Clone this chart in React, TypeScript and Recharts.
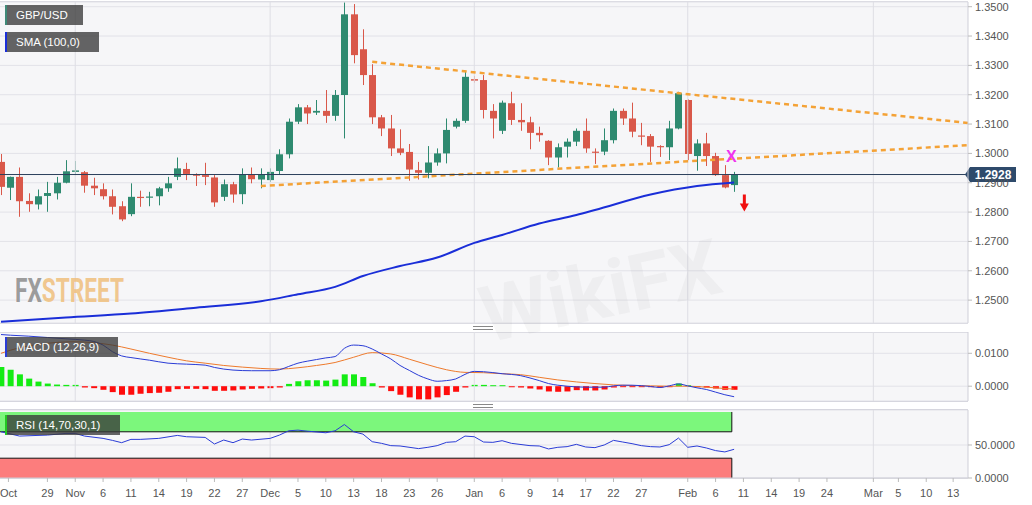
import React from "react";
import {
  ComposedChart,
  Bar,
  Line,
  XAxis,
  YAxis,
  CartesianGrid,
  ReferenceLine,
  ReferenceArea,
  ReferenceDot,
  Cell,
} from "recharts";

// daily GBP/USD candles, Oct 22 2019 .. Feb 10 2020 (trading days)
const open = [
  1.2971, 1.2883, 1.292, 1.2838, 1.2826, 1.2855, 1.2864, 1.29, 1.2937, 1.2936,
  1.289, 1.2878, 1.2854, 1.282, 1.2793, 1.2852, 1.2851, 1.2854, 1.2881, 1.292,
  1.2947, 1.2928, 1.2926, 1.2918, 1.2852, 1.2895, 1.2861, 1.2927, 1.2911, 1.2909,
  1.294, 1.2997, 1.3108, 1.3157, 1.3139, 1.3145, 1.3128, 1.3199, 1.3474, 1.3355,
  1.3267, 1.3123, 1.3085, 1.3017, 1.3005, 1.2943, 1.2934, 1.2969, 1.3, 1.3091,
  1.3111, 1.3253, 1.325, 1.3145, 1.3077, 1.3171, 1.3114, 1.3106, 1.307, 1.3043,
  1.2986, 1.3023, 1.304, 1.3077, 1.3006, 1.3006, 1.3045, 1.3145, 1.3119, 1.3061,
  1.3059, 1.3025, 1.3021, 1.3085, 1.3182, 1.2991, 1.3034, 1.2991, 1.2926, 1.2892,
];
const high = [
  1.2998, 1.2921, 1.2952, 1.2864, 1.2877, 1.2903, 1.292, 1.2977, 1.2974, 1.294,
  1.2917, 1.2898, 1.2877, 1.2837, 1.2898, 1.2873, 1.2869, 1.2886, 1.292, 1.2986,
  1.2968, 1.2932, 1.2968, 1.2926, 1.2911, 1.2903, 1.2949, 1.2952, 1.2949, 1.2949,
  1.3014, 1.3119, 1.3168, 1.3165, 1.3182, 1.3216, 1.3216, 1.3514, 1.3509, 1.3423,
  1.3304, 1.3131, 1.3131, 1.3082, 1.3032, 1.2971, 1.3025, 1.3017, 1.3119, 1.3119,
  1.3278, 1.3264, 1.3267, 1.3168, 1.318, 1.321, 1.3171, 1.3125, 1.3091, 1.3045,
  1.3034, 1.3051, 1.3085, 1.3119, 1.3017, 1.3085, 1.3153, 1.3153, 1.3173, 1.3104,
  1.3066, 1.3028, 1.3111, 1.321, 1.3184, 1.3048, 1.307, 1.3002, 1.296, 1.2937,
];
const low = [
  1.2858, 1.2841, 1.2784, 1.2801, 1.2809, 1.2801, 1.2843, 1.2898, 1.2926, 1.2866,
  1.2858, 1.2843, 1.2792, 1.2769, 1.2786, 1.2818, 1.282, 1.2823, 1.2869, 1.2909,
  1.2909, 1.2889, 1.2892, 1.2818, 1.2838, 1.2832, 1.2827, 1.2898, 1.2881, 1.2903,
  1.2929, 1.2983, 1.31, 1.31, 1.3131, 1.3104, 1.3111, 1.3051, 1.3307, 1.3233,
  1.31, 1.3059, 1.2991, 1.2994, 1.2907, 1.2911, 1.2915, 1.2958, 1.2966, 1.3085,
  1.3104, 1.3241, 1.3119, 1.3051, 1.3066, 1.3097, 1.3077, 1.3014, 1.304, 1.296,
  1.2952, 1.2986, 1.3025, 1.3002, 1.2964, 1.2994, 1.3034, 1.3097, 1.3055, 1.3028,
  1.2971, 1.2988, 1.2977, 1.3082, 1.2977, 1.2941, 1.2957, 1.2923, 1.2881, 1.2869,
];
const close = [
  1.2886, 1.292, 1.2837, 1.2827, 1.2854, 1.2865, 1.29, 1.2939, 1.2942, 1.289,
  1.2881, 1.2854, 1.2818, 1.2775, 1.2852, 1.285, 1.2853, 1.2881, 1.2898, 1.2949,
  1.293, 1.2926, 1.292, 1.2833, 1.2895, 1.286, 1.2928, 1.2912, 1.2929, 1.2937,
  1.2997, 1.3108, 1.3157, 1.3136, 1.3145, 1.3128, 1.3199, 1.3474, 1.3335, 1.3267,
  1.3123, 1.3085, 1.3017, 1.3002, 1.2945, 1.2934, 1.2969, 1.3, 1.308, 1.3111,
  1.3261, 1.3248, 1.3148, 1.3119, 1.3173, 1.3114, 1.3106, 1.307, 1.3062, 1.2986,
  1.3021, 1.304, 1.3077, 1.3017, 1.3002, 1.3045, 1.3145, 1.3119, 1.3074, 1.3057,
  1.3023, 1.3021, 1.3085, 1.3205, 1.2998, 1.3034, 1.2991, 1.2926, 1.2884, 1.2928,
];

// SMA(100) at a few candles
const smaIdx = [0, 7, 14, 21, 28, 32, 36, 39, 43, 47, 51, 54, 58, 62, 64, 70, 75, 79];
const smaVal = [
  1.2426, 1.2441, 1.2454, 1.2474, 1.2496, 1.252, 1.2545, 1.2582, 1.2616, 1.2645,
  1.2695, 1.2722, 1.2761, 1.279, 1.2807, 1.286, 1.2889, 1.2901,
];

// MACD (12,26,9)
const macdIdx = [
  0, 1, 3, 5, 7, 9, 10, 11, 12, 13, 14, 16, 18, 20, 22, 23, 25, 27, 29, 30, 31, 32,
  33, 34, 35, 36, 37, 38, 39, 40, 41, 42, 43, 44, 45, 46, 47, 48, 49, 50, 51, 52,
  54, 56, 57, 58, 59, 60, 61, 63, 65, 66, 67, 68, 70, 71, 72, 73, 74, 75, 76, 77, 78, 79,
];
const macdVal = [
  0.0157, 0.0155, 0.0152, 0.0148, 0.0144, 0.014, 0.0136, 0.0125, 0.0105, 0.0092,
  0.0087, 0.0079, 0.007, 0.0067, 0.0064, 0.0057, 0.0049, 0.0047, 0.0047, 0.005,
  0.006, 0.007, 0.0076, 0.0081, 0.0086, 0.009, 0.0115, 0.0125, 0.0123, 0.0113,
  0.0098, 0.0083, 0.0063, 0.0048, 0.0033, 0.0022, 0.0015, 0.0017, 0.0022, 0.0036,
  0.0045, 0.0044, 0.0038, 0.0032, 0.0025, 0.0017, 0.0008, 0.0003, 0.0, -0.0003,
  -0.0003, 0.0001, 0.0003, 0.0003, -0.0001, -0.0004, 0.0001, 0.0007, 0.0001,
  -0.0005, -0.001, -0.0018, -0.0026, -0.0032,
];
const signalIdx = [
  0, 2, 4, 6, 8, 10, 12, 14, 16, 18, 20, 22, 24, 26, 28, 30, 32, 34, 36, 38, 40, 42,
  44, 46, 48, 50, 52, 54, 56, 58, 60, 62, 64, 66, 68, 70, 72, 74, 76, 79,
];
const signalVal = [
  0.01, 0.0117, 0.0127, 0.0133, 0.0135, 0.0132, 0.0125, 0.0113, 0.01, 0.0088,
  0.0077, 0.007, 0.0063, 0.0058, 0.0054, 0.0052, 0.0056, 0.0063, 0.0072, 0.0088,
  0.0102, 0.0098, 0.0082, 0.0065, 0.005, 0.0042, 0.0041, 0.0038, 0.0035, 0.0027,
  0.0019, 0.0013, 0.0008, 0.0004, 0.0002, 0.0001, 0.0, 0.0, -0.0003, -0.0009,
];
const histogram = [
  0.0058, 0.005, 0.0036, 0.0023, 0.0014, 0.0008, 0.0005, 0.0004, 0.0004, -0.0004,
  -0.0006, -0.0011, -0.0018, -0.0026, -0.0026, -0.0023, -0.0021, -0.002, -0.0017, -0.0009,
  -0.0008, -0.0008, -0.0009, -0.0014, -0.0014, -0.0013, -0.001, -0.0008, -0.0007, -0.0006,
  -0.0004, 0.0007, 0.0015, 0.0018, 0.0018, 0.0017, 0.002, 0.0036, 0.0036, 0.0028,
  0.0009, -0.0004, -0.0015, -0.0026, -0.0034, -0.004, -0.004, -0.0034, -0.0027, -0.0017,
  -0.0004, 0.0004, 0.0004, 0.0003, 0.0003, -0.0003, -0.0004, -0.0007, -0.001, -0.0016,
  -0.0017, -0.0016, -0.0012, -0.0013, -0.0013, -0.001, -0.0004, -0.0003, -0.0003, -0.0003,
  -0.0003, -0.0004, -0.0003, 0.0008, 0.0003, -0.0003, -0.0004, -0.0007, -0.0011, -0.0011,
];

// RSI (14)
const rsiIdx = [
  0, 2, 5, 7, 8, 9, 11, 12, 13, 14, 15, 17, 19, 20, 22, 23, 24, 25, 26, 27, 29, 30,
  31, 32, 33, 35, 36, 37, 38, 39, 40, 41, 42, 43, 45, 46, 47, 48, 49, 50, 51, 52, 53,
  54, 55, 57, 58, 59, 60, 61, 62, 63, 64, 65, 66, 67, 68, 69, 70, 71, 72, 73, 74, 75,
  76, 77, 78, 79,
];
const rsiVal = [
  70, 63.5, 65, 67.5, 67.5, 63.5, 60, 57, 53.5, 58.5, 58.5, 60, 64.5, 62.5, 61.5, 51.5,
  57.5, 53.5, 59, 57.5, 60, 65, 71.5, 72.5, 71, 68.5, 71.5, 81, 70, 66.5, 55, 52.5, 49,
  48.5, 44.5, 46.5, 49, 54, 55, 63.5, 62.5, 54.5, 54, 56.5, 52.5, 49, 48.5, 44, 46.5,
  47.5, 51, 47, 46, 50, 57, 54.5, 52, 49, 47.5, 47, 50.5, 60.5, 46.5, 48.5, 45.5, 41.5,
  39.5, 43.5,
];

// date axis (trading-day index -> label)
const tickIdx = [
  0.8, 5, 8, 11, 14, 17, 20, 23, 26, 29, 32, 35, 38, 41, 44, 47, 51, 54, 57, 60, 63, 66,
  69, 74, 77, 80, 83, 86, 89, 94, 96.7, 99.7, 102.6,
];
const tickText = [
  "Oct", "29", "Nov", "6", "11", "14", "19", "22", "27", "Dec", "5", "10", "13", "18",
  "23", "26", "Jan", "6", "9", "14", "17", "22", "27", "Feb", "6", "11", "14", "19",
  "24", "Mar", "5", "10", "13",
];
const monthIdx = [8, 29, 51, 74, 94];
const priceTicks = [1.25, 1.26, 1.27, 1.28, 1.29, 1.3, 1.31, 1.32, 1.33, 1.34, 1.35];
const lastPrice = 1.2928;

const X_MIN = -0.108;
const X_MAX = 104.2;
const BAND_END = 78.75;
const W = 1032;
const AXIS_W = 64;
const FONT = "'Liberation Sans', Arial, sans-serif";
const GREEN = "#2e8a70";
const RED = "#d9584a";
const GRID = "#e2e2e8";
const ORANGE_DASH = "#f4a236";

const pick = (idx: number[], val: number[], i: number) => {
  const k = idx.indexOf(i);
  return k < 0 ? null : val[k];
};

const rows = open.map((o, i) => ({
  i,
  open: o,
  high: high[i],
  low: low[i],
  close: close[i],
  range: [low[i], high[i]],
  sma: pick(smaIdx, smaVal, i),
  macd: pick(macdIdx, macdVal, i),
  signal: pick(signalIdx, signalVal, i),
  hist: histogram[i],
  rsi: pick(rsiIdx, rsiVal, i),
}));

const f4 = (v: number) => v.toFixed(4);
const axisTick = { fill: "#555", fontSize: 11, fontFamily: FONT };

const renderCandle = (props: any) => {
  const { x, y, width, height, payload } = props;
  if (x == null || !payload) return <g />;
  const top = Math.min(y, y + height);
  const span = Math.abs(height);
  const k = span / (payload.high - payload.low || 1);
  const yOpen = top + (payload.high - payload.open) * k;
  const yClose = top + (payload.high - payload.close) * k;
  const color = payload.close >= payload.open ? GREEN : RED;
  const cx = Math.round(x + width / 2) + 0.5;
  const bodyTop = Math.min(yOpen, yClose);
  const bodyH = Math.max(Math.abs(yOpen - yClose), 1.2);
  return (
    <g>
      <line x1={cx} x2={cx} y1={top} y2={top + span} stroke={color} strokeWidth={1} />
      <rect x={cx - 3.5} y={bodyTop} width={7} height={bodyH} fill={color} />
    </g>
  );
};

const renderPriceTag = (props: any) => {
  const vb = props.viewBox || {};
  const x = vb.x + vb.width;
  const y = vb.y;
  return (
    <g>
      <path
        d={`M${x - 3},${y} L${x + 2},${y - 7.5} L${x + 48},${y - 7.5} L${x + 48},${y + 7.5} L${x + 2},${y + 7.5} Z`}
        fill="#2e4a6b"
      />
      <text x={x + 25} y={y + 4.5} textAnchor="middle" fill="#fff" fontSize={12} fontWeight="bold" fontFamily={FONT}>
        {lastPrice.toFixed(4)}
      </text>
    </g>
  );
};

const renderCross = (p: any) => (
  <text x={p.cx} y={p.cy + 5.5} textAnchor="middle" fill="#f035ee" fontSize={16} fontWeight="bold" fontFamily={FONT}>
    X
  </text>
);

const renderArrow = (p: any) => (
  <path
    d={`M${p.cx - 1.5},${p.cy - 8} L${p.cx + 1.5},${p.cy - 8} L${p.cx + 1.5},${p.cy + 1} L${p.cx + 4.5},${p.cy + 1} L${p.cx},${p.cy + 9} L${p.cx - 4.5},${p.cy + 1} L${p.cx - 1.5},${p.cy + 1} Z`}
    fill="#f01010"
  />
);

const Tag = ({ text, stripe, top, width }: { text: string; stripe: string; top: number; width: number }) => (
  <div
    style={{
      position: "absolute",
      left: 5,
      top,
      width,
      height: 20,
      background: "rgba(58,58,58,0.78)",
      borderLeft: `2px solid ${stripe}`,
      boxSizing: "border-box",
      color: "#fff",
      fontFamily: FONT,
      fontSize: 11.5,
      lineHeight: "20px",
      paddingLeft: 9,
      whiteSpace: "nowrap",
    }}
  >
    {text}
  </div>
);

const frame = (top: number, height: number): React.CSSProperties => ({
  position: "absolute",
  left: 0,
  top,
  width: 968,
  height,
  background: "#f6f6f8",
  borderTop: "1px solid #d6d6de",
  borderBottom: "1px solid #d6d6de",
  boxSizing: "border-box",
});

const Handle = ({ top }: { top: number }) => (
  <div style={{ position: "absolute", left: 473, top, width: 20, height: 4, borderTop: "1px solid #888", borderBottom: "1px solid #888", boxSizing: "border-box" }} />
);

const monthLines = monthIdx.map((m) => <ReferenceLine key={`m${m}`} x={m} stroke="#dedee4" />);
// in the RSI pane the month lines only show between the two bands, and after them
const rsiMonthLines = monthIdx.map((m) =>
  m < BAND_END ? (
    <ReferenceLine key={`r${m}`} segment={[{ x: m, y: 30 }, { x: m, y: 70 }]} stroke="#dedee4" />
  ) : (
    <ReferenceLine key={`r${m}`} x={m} stroke="#dedee4" />
  )
);

export default function App() {
  return (
    <div style={{ position: "relative", width: W, height: 505, background: "#fff", overflow: "hidden" }}>
      <style>{"body{margin:0}"}</style>
      <div style={frame(1, 323)} />
      <div style={frame(332, 70)} />
      <div style={frame(409, 70)} />

      <div style={{ position: "absolute", left: 0, top: 0 }}>
        <ComposedChart width={W} height={325} data={rows} margin={{ top: 2, right: 0, bottom: 2, left: 0 }}>
          <CartesianGrid vertical={false} stroke={GRID} />
          <XAxis dataKey="i" type="number" domain={[X_MIN, X_MAX]} hide allowDataOverflow />
          <YAxis
            orientation="right"
            width={AXIS_W}
            domain={[1.2422, 1.3516]}
            ticks={priceTicks}
            tickFormatter={f4}
            tick={axisTick}
            tickLine={{ stroke: "#bbb" }}
            tickSize={4}
            tickMargin={3}
            axisLine={{ stroke: "#cfcfd8" }}
            allowDataOverflow
          />
          {monthLines}
          <Bar dataKey="range" barSize={7} shape={renderCandle} isAnimationActive={false} />
          <ReferenceLine segment={[{ x: 28, y: 1.2889 }, { x: X_MAX, y: 1.3028 }]} stroke={ORANGE_DASH} strokeWidth={2.5} strokeDasharray="5 4" />
          <ReferenceLine segment={[{ x: 40, y: 1.3312 }, { x: X_MAX, y: 1.3104 }]} stroke={ORANGE_DASH} strokeWidth={2.5} strokeDasharray="5 4" />
          <Line dataKey="sma" type="monotone" stroke="#1a2ed8" strokeWidth={2} dot={false} connectNulls isAnimationActive={false} />
          <ReferenceLine y={lastPrice} stroke="#2b3f5c" strokeWidth={1} label={renderPriceTag} />
          <ReferenceDot x={78.7} y={1.2991} r={0} shape={renderCross} />
          <ReferenceDot x={80.1} y={1.2833} r={0} shape={renderArrow} />
        </ComposedChart>
      </div>

      <div style={{ position: "absolute", left: 0, top: 332 }}>
        <ComposedChart width={W} height={69} data={rows} margin={{ top: 0, right: 0, bottom: 0, left: 0 }}>
          <CartesianGrid vertical={false} stroke={GRID} />
          <XAxis dataKey="i" type="number" domain={[X_MIN, X_MAX]} hide allowDataOverflow />
          <YAxis
            orientation="right"
            width={AXIS_W}
            domain={[-0.0045, 0.01647]}
            ticks={[0, 0.01]}
            tickFormatter={f4}
            tick={axisTick}
            tickLine={{ stroke: "#bbb" }}
            tickSize={4}
            tickMargin={3}
            axisLine={{ stroke: "#cfcfd8" }}
            allowDataOverflow
          />
          {monthLines}
          <Bar dataKey="hist" barSize={6} isAnimationActive={false}>
            {rows.map((r) => (
              <Cell key={r.i} fill={r.hist >= 0 ? "#14ec14" : "#ff0c0c"} />
            ))}
          </Bar>
          <Line dataKey="signal" type="monotone" stroke="#ee7a2c" strokeWidth={1} dot={false} connectNulls isAnimationActive={false} />
          <Line dataKey="macd" type="monotone" stroke="#2a3cd6" strokeWidth={1} dot={false} connectNulls isAnimationActive={false} />
        </ComposedChart>
      </div>

      <div style={{ position: "absolute", left: 0, top: 410 }}>
        <ComposedChart width={W} height={95} data={rows} margin={{ top: 0, right: 0, bottom: 0, left: 0 }}>
          <CartesianGrid vertical={false} stroke={GRID} />
          <XAxis
            dataKey="i"
            type="number"
            domain={[X_MIN, X_MAX]}
            allowDataOverflow
            ticks={tickIdx}
            interval={0}
            tickFormatter={(v: number) => tickText[tickIdx.indexOf(v)] ?? ""}
            tick={axisTick}
            tickLine={{ stroke: "#bbb" }}
            tickSize={4}
            tickMargin={7}
            axisLine={{ stroke: "#cfcfd8" }}
            height={27}
          />
          <YAxis
            orientation="right"
            width={AXIS_W}
            domain={[0, 103]}
            ticks={[0, 50]}
            tickFormatter={f4}
            tick={axisTick}
            tickLine={{ stroke: "#bbb" }}
            tickSize={4}
            tickMargin={3}
            axisLine={{ stroke: "#cfcfd8" }}
            allowDataOverflow
          />
          <ReferenceArea x1={X_MIN} x2={BAND_END} y1={70} y2={100} fill="#7cf77c" fillOpacity={1} stroke="none" />
          <ReferenceArea x1={X_MIN} x2={BAND_END} y1={0} y2={30} fill="#fc7d7d" fillOpacity={1} stroke="none" />
          {rsiMonthLines}
          <ReferenceLine segment={[{ x: X_MIN, y: 70 }, { x: BAND_END, y: 70 }]} stroke="#111" />
          <ReferenceLine segment={[{ x: BAND_END, y: 70 }, { x: BAND_END, y: 100 }]} stroke="#111" />
          <ReferenceLine segment={[{ x: X_MIN, y: 30 }, { x: BAND_END, y: 30 }]} stroke="#111" />
          <ReferenceLine segment={[{ x: BAND_END, y: 0 }, { x: BAND_END, y: 30 }]} stroke="#111" />
          <Line dataKey="rsi" type="linear" stroke="#2a3cd6" strokeWidth={1} dot={false} connectNulls isAnimationActive={false} />
        </ComposedChart>
      </div>

      <Handle top={326} />
      <Handle top={404} />

      <Tag text="GBP/USD" stripe="#3f8a78" top={5} width={78} />
      <Tag text="SMA (100,0)" stripe="#1a2ed8" top={32} width={94} />
      <Tag text="MACD (12,26,9)" stripe="#2a3cd6" top={337} width={113} />
      <Tag text="RSI (14,70,30,1)" stripe="#22c822" top={415} width={115} />

      <svg width={W} height={505} style={{ position: "absolute", left: 0, top: 0, pointerEvents: "none" }}>
        <text x={15} y={302} fontFamily="Roboto, sans-serif" fontWeight="bold" fontSize={34} textLength={109} lengthAdjust="spacingAndGlyphs">
          <tspan fill="#8c8c8c" fillOpacity={0.85}>FX</tspan>
          <tspan fill="#efbf7c" fillOpacity={0.85}>STREET</tspan>
        </text>
        <text
          x={600}
          y={318}
          fontFamily="Roboto, sans-serif"
          fontWeight="bold"
          fontSize={78}
          fill="#777"
          fillOpacity={0.06}
          transform="rotate(-12 600 290)"
          textAnchor="middle"
        >
          WikiFX
        </text>
      </svg>
    </div>
  );
}
